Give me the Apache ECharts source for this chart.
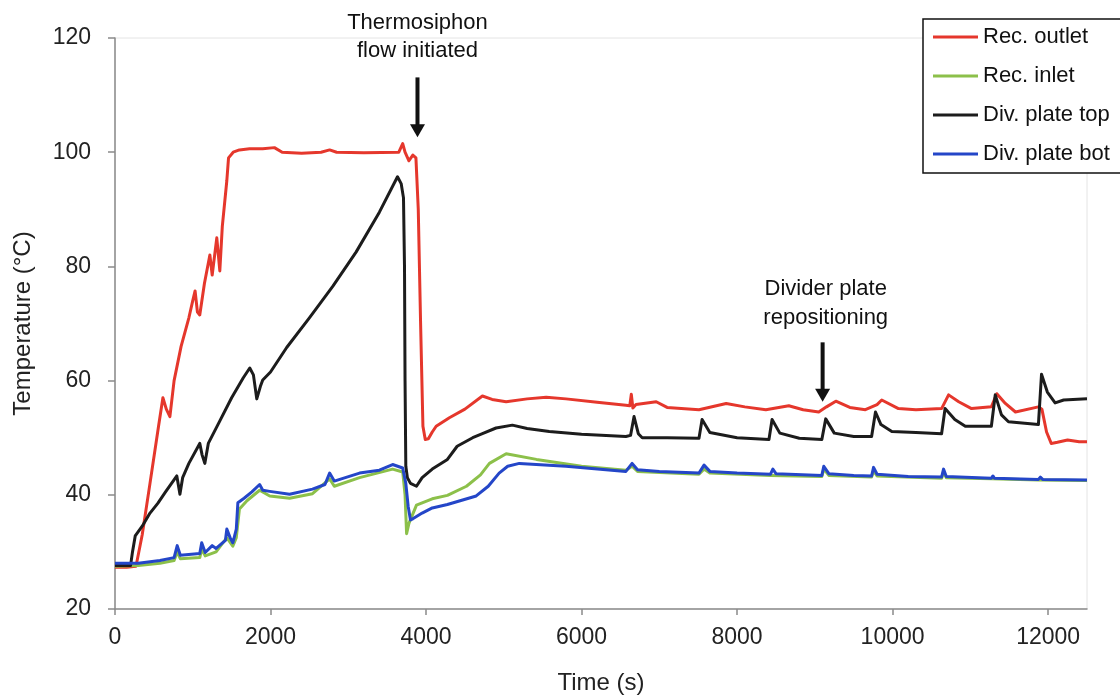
<!DOCTYPE html>
<html>
<head>
<meta charset="utf-8">
<script src="https://cdn.jsdelivr.net/npm/echarts@6/dist/echarts.min.js"></script>
<style>
  html, body { margin: 0; padding: 0; background: #fff; }
  #chart { width: 1120px; height: 700px; }
</style>
</head>
<body>
<div id="chart"></div>
<script>
// Receiver / divider-plate temperatures during the thermosiphon run
const seriesNames = ['Rec. outlet', 'Rec. inlet', 'Div. plate top', 'Div. plate bot'];
const seriesColors = ['#e5372c', '#8cc04a', '#1c1c1c', '#2446c8'];

const xTicks = [0, 2000, 4000, 6000, 8000, 10000, 12000];
const yTicks = [20, 40, 60, 80, 100, 120];

// Rec. outlet
const outletTime = [0, 150, 270, 350, 450, 560, 616, 660, 706, 760, 850, 950, 1000, 1030, 1060, 1090, 1150, 1220, 1250, 1309, 1348, 1380, 1438, 1460, 1520, 1600, 1730, 1900, 2050, 2150, 2400, 2650, 2760, 2850, 3200, 3650, 3700, 3730, 3780, 3830, 3870, 3900, 3930, 3960, 3990, 4030, 4080, 4130, 4300, 4500, 4725, 4850, 5030, 5300, 5545, 5800, 6200, 6570, 6620, 6640, 6660, 6700, 6960, 7100, 7510, 7860, 8100, 8370, 8665, 8850, 9050, 9150, 9270, 9450, 9650, 9800, 9860, 10075, 10300, 10630, 10720, 10850, 11015, 11270, 11340, 11450, 11580, 11875, 11920, 11980, 12040, 12120, 12250, 12400, 12500];
const outletTemp = [27.3, 27.3, 27.5, 33, 42, 52, 57, 55, 53.7, 60, 66, 71, 74, 75.7, 72, 71.5, 77, 82, 78.5, 85, 79.2, 87, 95, 99, 100, 100.4, 100.6, 100.6, 100.8, 100, 99.8, 100, 100.4, 100, 99.9, 100, 101.5, 100, 98.5, 99.5, 99, 90, 70, 52, 49.7, 49.8, 51, 52, 53.5, 55, 57.3, 56.7, 56.3, 56.8, 57.1, 56.8, 56.2, 55.7, 55.6, 57.6, 55.2, 55.8, 56.3, 55.3, 54.9, 56, 55.4, 54.9, 55.6, 54.9, 54.5, 55.4, 56.4, 55.3, 54.9, 55.8, 56.6, 55.1, 54.9, 55.1, 57.5, 56.3, 55.1, 55.4, 57.7, 56, 54.5, 55.4, 55, 51, 49, 49.2, 49.6, 49.3, 49.3];

// Rec. inlet
const inletTime = [0, 300, 578, 760, 800, 840, 1090, 1115, 1160, 1300, 1438, 1515, 1560, 1600, 1700, 1860, 1990, 2245, 2540, 2760, 2820, 3145, 3570, 3700, 3730, 3750, 3780, 3877, 4080, 4275, 4520, 4700, 4815, 5030, 5420, 6000, 6570, 6650, 6720, 7510, 7575, 7650, 8430, 9090, 9115, 9180, 9730, 9755, 9800, 10630, 10655, 10690, 11270, 11875, 12500];
const inletTemp = [27.5, 27.6, 28, 28.5, 30, 28.8, 29, 30.5, 29.3, 30, 32.5, 31, 32.5, 37.5, 39, 40.8, 39.8, 39.4, 40.2, 42.8, 41.5, 43, 44.5, 44, 40, 33.2, 35, 38.2, 39.3, 39.9, 41.5, 43.5, 45.5, 47.2, 46.2, 45, 44.3, 45, 44.1, 43.6, 44.5, 43.8, 43.4, 43.2, 44.5, 43.4, 43.1, 44.2, 43.3, 42.9, 44, 43, 42.8, 42.6, 42.5];

// Div. plate top
const plateTopTime = [0, 200, 225, 260, 350, 450, 550, 650, 795, 835, 870, 950, 1090, 1120, 1155, 1200, 1350, 1500, 1650, 1733, 1780, 1823, 1870, 1900, 2000, 2208, 2500, 2800, 3100, 3400, 3633, 3680, 3710, 3723, 3730, 3740, 3760, 3800, 3877, 3950, 4080, 4275, 4400, 4600, 4725, 4900, 5110, 5300, 5585, 6000, 6570, 6630, 6675, 6730, 6780, 7100, 7510, 7550, 7650, 8000, 8410, 8450, 8550, 8800, 9090, 9140, 9250, 9500, 9730, 9780, 9850, 9990, 10300, 10630, 10675, 10800, 10935, 11270, 11320, 11400, 11490, 11875, 11915, 11990, 12090, 12200, 12500];
const plateTopTemp = [27.6, 27.6, 30, 32.8, 34.5, 36.8, 38.5, 40.5, 43.3, 40.1, 43, 45.5, 49, 47, 45.5, 49, 53, 57, 60.5, 62.2, 61, 56.8, 59, 60.1, 61.5, 65.8, 71, 76.5, 82.5, 89.5, 95.7, 94.5, 92, 80, 60, 45, 43, 42, 41.5, 43, 44.5, 46.2, 48.5, 50, 50.7, 51.7, 52.2, 51.6, 51.1, 50.6, 50.2, 50.4, 53.7, 50.7, 50, 50, 49.9, 53.2, 50.9, 50, 49.7, 53.2, 50.8, 49.9, 49.7, 53.3, 50.8, 50.2, 50.2, 54.5, 52.3, 51.1, 50.9, 50.7, 55.1, 53.2, 52, 52, 57.5, 54, 52.8, 52.3, 61.1, 58, 56.1, 56.6, 56.8];

// Div. plate bot
const plateBotTime = [0, 300, 578, 760, 800, 840, 1090, 1115, 1160, 1250, 1300, 1420, 1438, 1480, 1515, 1560, 1580, 1660, 1760, 1860, 1900, 1990, 2245, 2540, 2700, 2760, 2820, 3145, 3400, 3570, 3700, 3740, 3770, 3800, 3830, 3950, 4080, 4275, 4645, 4800, 4940, 5050, 5200, 5800, 6570, 6650, 6720, 7000, 7510, 7575, 7650, 8000, 8430, 8460, 8500, 9090, 9115, 9180, 9500, 9730, 9755, 9800, 10200, 10630, 10655, 10690, 11270, 11290, 11310, 11875, 11900, 11930, 12500];
const plateBotTemp = [28, 28, 28.5, 29, 31.1, 29.4, 29.7, 31.6, 29.9, 31.1, 30.6, 32, 34, 32.5, 31.6, 34, 38.6, 39.4, 40.5, 41.8, 40.8, 40.6, 40.1, 41, 41.8, 43.8, 42.4, 43.8, 44.3, 45.3, 44.7, 42, 38, 35.6, 35.8, 36.8, 37.7, 38.3, 39.8, 41.5, 43.8, 45, 45.5, 45, 44.1, 45.5, 44.4, 44.1, 43.8, 45.2, 44.1, 43.8, 43.6, 44.5, 43.7, 43.4, 45, 43.7, 43.4, 43.3, 44.8, 43.6, 43.2, 43.1, 44.5, 43.2, 42.9, 43.3, 42.9, 42.7, 43.1, 42.7, 42.6];

// Annotated events: arrow time (s), arrow tail / tip temperatures, text line temperatures
const eventLabels = [['Thermosiphon', 'flow initiated'], ['Divider plate', 'repositioning']];
const eventArrowTime = [3890, 9100];
const eventTextTime = [3890, 9140];
const eventArrowTail = [113.1, 66.7];
const eventArrowTip = [102.6, 56.3];
const eventTextTemp = [[122.6, 117.8], [76.0, 70.9]];

const timeSeries = [outletTime, inletTime, plateTopTime, plateBotTime];
const tempSeries = [outletTemp, inletTemp, plateTopTemp, plateBotTemp];

const FONT = '"Liberation Sans", Arial, sans-serif';
const chart = echarts.init(document.getElementById('chart'), null, { renderer: 'canvas' });

const series = seriesNames.map((name, i) => ({
  name: name,
  type: 'line',
  showSymbol: false,
  symbol: 'none',
  animation: false,
  color: seriesColors[i],
  lineStyle: { color: seriesColors[i], width: 3, join: 'round' },
  data: timeSeries[i].map((t, k) => [t, tempSeries[i][k]])
}));

chart.setOption({
  animation: false,
  backgroundColor: '#ffffff',
  grid: {
    left: 115, right: 33, top: 38, bottom: 88,
    show: true, borderColor: '#e4e4e4', borderWidth: 1, backgroundColor: 'transparent'
  },
  legend: {
    orient: 'vertical',
    left: 923, top: 19,
    padding: [6, 30, 7, 10],
    itemGap: 15,
    itemWidth: 45,
    itemHeight: 3,
    icon: 'rect',
    borderColor: '#111',
    borderWidth: 1.5,
    backgroundColor: '#fff',
    data: seriesNames,
    textStyle: { fontFamily: FONT, fontSize: 22, color: '#111', lineHeight: 24, padding: [0, 0, 0, 0] }
  },
  xAxis: {
    type: 'value',
    min: 0, max: 12500, interval: 2000,
    name: 'Time (s)',
    nameLocation: 'middle',
    nameGap: 62,
    nameTextStyle: { fontFamily: FONT, fontSize: 24, color: '#222' },
    splitLine: { show: false },
    axisLine: { show: true, onZero: false, lineStyle: { color: '#8a8a8a', width: 1.5 } },
    axisTick: { show: true, length: 6, inside: false, customValues: xTicks, lineStyle: { color: '#8a8a8a', width: 1.5 } },
    axisLabel: {
      fontFamily: FONT, fontSize: 23, color: '#222', margin: 17,
      customValues: xTicks,
      formatter: v => (xTicks.indexOf(v) >= 0 ? String(v) : '')
    }
  },
  yAxis: {
    type: 'value',
    min: 20, max: 120, interval: 20,
    name: 'Temperature (°C)',
    nameLocation: 'middle',
    nameGap: 80,
    nameRotate: 90,
    nameTextStyle: { fontFamily: FONT, fontSize: 24, color: '#222' },
    splitLine: { show: false },
    axisLine: { show: true, lineStyle: { color: '#8a8a8a', width: 1.5 } },
    axisTick: { show: true, length: 7, inside: false, lineStyle: { color: '#8a8a8a', width: 1.5 } },
    axisLabel: { fontFamily: FONT, fontSize: 23, color: '#222', margin: 24 }
  },
  series: series
});

// Event annotations (text + arrow), positioned from axis coordinates
const graphics = [];
eventLabels.forEach((lines, i) => {
  const tx = chart.convertToPixel({ gridIndex: 0 }, [eventTextTime[i], eventTextTemp[i][0]]);
  const tx2 = chart.convertToPixel({ gridIndex: 0 }, [eventTextTime[i], eventTextTemp[i][1]]);
  [tx, tx2].forEach((p, j) => {
    graphics.push({
      type: 'text',
      x: p[0], y: p[1],
      style: {
        text: lines[j], fill: '#111',
        font: '22px ' + FONT,
        align: 'center', verticalAlign: 'middle'
      },
      z: 100
    });
  });
  const tail = chart.convertToPixel({ gridIndex: 0 }, [eventArrowTime[i], eventArrowTail[i]]);
  const tip = chart.convertToPixel({ gridIndex: 0 }, [eventArrowTime[i], eventArrowTip[i]]);
  const headLen = 13, headHalf = 7.5, shaft = 4;
  graphics.push({
    type: 'rect',
    shape: { x: tail[0] - shaft / 2, y: tail[1], width: shaft, height: tip[1] - tail[1] - headLen + 1 },
    style: { fill: '#111' },
    z: 100
  });
  graphics.push({
    type: 'polygon',
    shape: { points: [[tip[0] - headHalf, tip[1] - headLen], [tip[0] + headHalf, tip[1] - headLen], [tip[0], tip[1]]] },
    style: { fill: '#111' },
    z: 100
  });
});
chart.setOption({ graphic: graphics });
</script>
</body>
</html>
